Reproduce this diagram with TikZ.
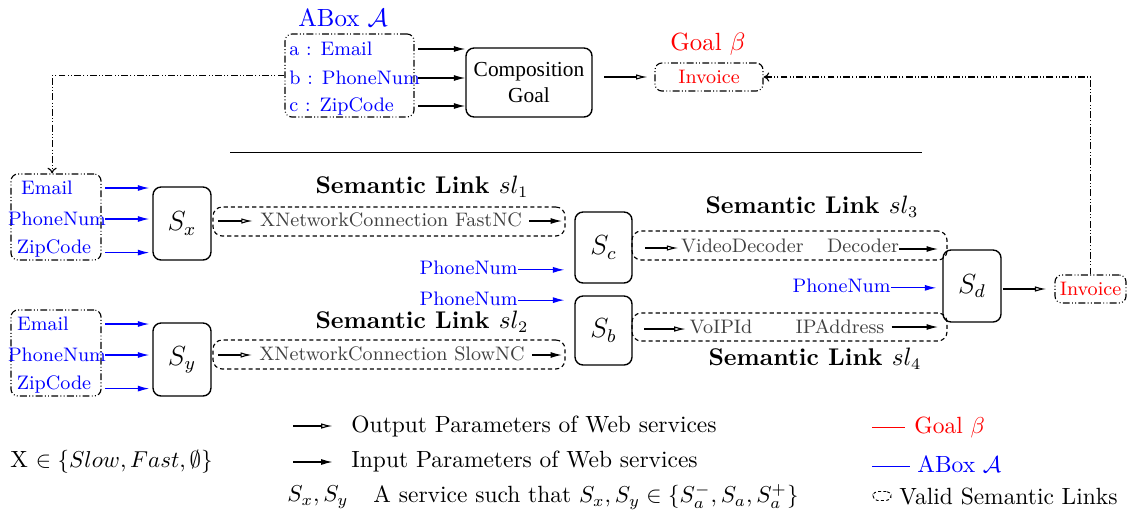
\documentclass[tikz,border=0pt]{standalone}
\usepackage{fontspec}
\newfontfamily\timesf{Liberation Serif}
\usetikzlibrary{arrows.meta}
\tikzset{
 wh/.style 2 args={minimum width=#1*0.4348pt,minimum height=#2*0.4348pt},
 svc/.style={draw,rounded corners=3.5pt,line width=0.6pt,inner sep=0pt,font=\fontsize{11.5}{13}\selectfont},
 ddbox/.style={draw,rounded corners=3pt,line width=0.5pt,inner sep=0pt,dash pattern=on 3pt off 1pt on 0.4pt off 1pt on 0.4pt off 1pt},
 slbox/.style={draw,rounded corners=4pt,line width=0.5pt,inner sep=0pt,dash pattern=on 1.8pt off 1.3pt},
 btxt/.style={inner sep=0pt,font=\fontsize{8.5}{10}\selectfont,text=blue},
 rtxt/.style={inner sep=0pt,font=\fontsize{8.5}{10}\selectfont,text=red},
 ltxt/.style={inner sep=0pt,font=\fontsize{8.5}{10}\selectfont,text=black!75},
 lbl/.style={inner sep=0pt,font=\fontsize{10.5}{12}\selectfont\bfseries},
 ttl/.style={inner sep=0pt,font=\fontsize{10.8}{12}\selectfont},
 leg/.style={inner sep=0pt,anchor=west,font=\fontsize{10.2}{12}\selectfont},
 inarr/.style={-{Latex[length=5pt,width=2.6pt]},line width=0.5pt},
 outarr/.style={-{Latex[open,length=5pt,width=2.4pt]},line width=0.5pt},
 ddline/.style={line width=0.5pt,dash pattern=on 3pt off 1pt on 0.4pt off 1pt on 0.4pt off 1pt,-{To[length=2.5pt,width=4pt]}},
}
\begin{document}
\begin{tikzpicture}[x=0.4348pt,y=-0.4348pt]
\useasboundingbox (0,0) rectangle (1132,519);
% ABox
\node[ttl,text=blue] (aboxt) at (343,18) {ABox $\mathcal{A}$};
\node[ddbox,wh={129}{83}] (abox) at (349.5,75.5) {};
\node[btxt,anchor=west] (ta) at (289,49) {a : Email};
\node[btxt,anchor=west] (tb) at (289,78) {b : PhoneNum};
\node[btxt,anchor=west] (tc) at (289,106) {c : ZipCode};
\node[draw,rounded corners=3.5pt,line width=0.6pt,wh={126}{69},align=center,font=\timesf\fontsize{9.3}{11.7}\selectfont] (comp) at (529,82.5) {Composition\\Goal};
\draw[inarr,shorten <=1.7pt] (abox.east |- ta) -- (comp.west |- ta);
\draw[inarr,shorten <=1.7pt] (abox.east |- tb) -- (comp.west |- tb);
\draw[inarr,shorten <=1.7pt] (abox.east |- tc) -- (comp.west |- tc);
% Goal
\node[ttl,text=red] (goalt) at (708,44) {Goal $\beta$};
\node[ddbox,wh={108}{28}] (inv1) at (709,77) {};
\node[rtxt] (inv1t) at (709,77) {Invoice};
\draw[outarr,shorten <=5pt,shorten >=3pt] (comp.east |- inv1) -- (inv1.west);
% rule
\draw[line width=0.4pt] (230,152) -- (922,152);
% left box 1
\node[ddbox,wh={90}{86}] (lb1) at (56,217) {};
\node[btxt] (e1) at (47,188) {Email};
\node[btxt] (p1) at (57,219) {PhoneNum};
\node[btxt] (z1) at (54,248) {ZipCode};
\node[svc,wh={58}{73}] (Sx) at (182,223.5) {$S_x$};
\draw[inarr,blue,shorten <=1.7pt,shorten >=1.3pt] (lb1.east |- e1) -- (Sx.west |- e1);
\draw[inarr,blue,shorten <=1.7pt,shorten >=1.3pt] (lb1.east |- p1) -- (Sx.west |- p1);
\draw[inarr,blue,shorten <=1.7pt,shorten >=1.3pt] ([yshift=-2pt]lb1.east |- z1) -- ([yshift=-2pt]Sx.west |- z1);
% sl1
\node[lbl] (sl1t) at (422,187) {Semantic Link $sl_1$};
\node[slbox,wh={352}{29}] (sl1) at (389,221.5) {};
\node[ltxt] (x1) at (391,220) {XNetworkConnection FastNC};
\coordinate (x1a) at (218,221);
\coordinate (x1b) at (562,221);
\draw[outarr,shorten >=3pt] (x1a) -- (x1a -| x1.west);
\draw[inarr,shorten <=3pt] (x1.east |- x1b) -- (x1b);
% left box 2
\node[ddbox,wh={90}{86}] (lb2) at (56,353) {};
\node[btxt] (e2) at (43,324) {Email};
\node[btxt] (p2) at (57,355) {PhoneNum};
\node[btxt] (z2) at (54,384) {ZipCode};
\node[svc,wh={58}{73}] (Sy) at (182,359.5) {$S_y$};
\draw[inarr,blue,shorten <=1.7pt,shorten >=1.3pt] (lb2.east |- e2) -- (Sy.west |- e2);
\draw[inarr,blue,shorten <=1.7pt,shorten >=1.3pt] (lb2.east |- p2) -- (Sy.west |- p2);
\draw[inarr,blue,shorten <=1.7pt,shorten >=1.3pt] ([yshift=-2pt]lb2.east |- z2) -- ([yshift=-2pt]Sy.west |- z2);
% sl2
\node[lbl] (sl2t) at (422,322) {Semantic Link $sl_2$};
\node[slbox,wh={352}{29}] (sl2) at (389,354.5) {};
\node[ltxt] (x2) at (392,354) {XNetworkConnection SlowNC};
\coordinate (x2a) at (218,355);
\coordinate (x2b) at (562,355);
\draw[outarr,shorten >=3pt] (x2a) -- (x2a -| x2.west);
\draw[inarr,shorten <=3pt] (x2.east |- x2b) -- (x2b);
% Sc, Sb
\node[svc,wh={57}{71}] (Sc) at (603.5,247.5) {$S_c$};
\node[svc,wh={57}{69}] (Sb) at (603.5,330.5) {$S_b$};
\node[btxt,anchor=east] (pc) at (518,268) {PhoneNum};
\node[btxt,anchor=east] (pb) at (518,299) {PhoneNum};
\draw[inarr,blue,shorten >=4.3pt] ([yshift=-0.8pt]pc.east) -- ([yshift=-0.8pt]Sc.west |- pc);
\draw[inarr,blue,shorten >=4.3pt] ([yshift=-0.5pt]pb.east) -- ([yshift=-0.5pt]Sb.west |- pb);
% sl3
\node[lbl] (sl3t) at (812,207) {Semantic Link $sl_3$};
\node[slbox,wh={315}{29}] (sl3) at (789.5,245.5) {};
\node[ltxt] (x3) at (790,246) {VideoDecoder\hspace{1.2em}Decoder};
\coordinate (x3a) at (645,248);
\coordinate (x3b) at (938,249);
\draw[outarr,shorten >=1pt] (x3a) -- (x3a -| x3.west);
\draw[inarr] (x3.east |- x3b) -- (x3b);
% Sd
\node[svc,wh={58}{72}] (Sd) at (972,286) {$S_d$};
\node[btxt,anchor=east] (pd) at (891,286) {PhoneNum};
\draw[inarr,blue,shorten >=2.6pt] ([yshift=-0.8pt]pd.east) -- ([yshift=-0.8pt]Sd.west |- pd);
% sl4
\node[lbl] (sl4t) at (815,359) {Semantic Link $sl_4$};
\node[slbox,wh={315}{28}] (sl4) at (789.5,327) {};
\node[ltxt] (v4) at (721,327) {VoIPId};
\node[ltxt] (i4) at (840,327) {IPAddress};
\coordinate (x4a) at (644,329);
\coordinate (x4b) at (938,327);
\draw[outarr,shorten >=1.5pt] (x4a) -- (x4a -| v4.west);
\draw[inarr,shorten <=3pt] (i4.east |- x4b) -- (x4b);
% Invoice 2
\node[ddbox,wh={71}{28}] (inv2) at (1090.5,289) {};
\node[rtxt] (inv2t) at (1090.5,289) {Invoice};
\draw[outarr,shorten <=0.5pt,shorten >=3.5pt] (Sd.east |- inv2) -- (inv2.west);
% dash-dot connectors
\draw[ddline] (inv2.north) |- (inv1.east);
\draw[ddline] (abox.west) -| ([xshift=-1.7pt]lb1.north);
% legend
\node[leg] (lgo) at (351,426) {Output Parameters of Web services};
\node[leg] (lgi) at (351,461) {Input Parameters of Web services};
\coordinate (lo) at (293,426);
\coordinate (li) at (293,462);
\draw[outarr,shorten >=8pt] (lo) -- (lo -| lgo.west);
\draw[inarr,shorten >=8pt] (li) -- (li -| lgi.west);
\node[leg] (lgs) at (287,497) {$S_x, S_y$};
\node[leg] (lgs2) at (373,497) {A service such that $S_x, S_y \in \{S_a^-, S_a, S_a^+\}$};
\node[leg] (lgx) at (10,462) {X $\in \{Slow, Fast, \emptyset\}$};
\node[leg,text=red] (lgg) at (914,427) {Goal $\beta$};
\node[leg,text=blue] (lga) at (917,464) {ABox $\mathcal{A}$};
\coordinate (lr) at (872,427);
\coordinate (lb) at (872,466);
\draw[red,line width=0.4pt,shorten >=4pt] (lr) -- (lr -| lgg.west);
\draw[blue,line width=0.4pt,shorten >=3pt] (lb) -- (lb -| lga.west);
\node[slbox,rounded corners=2pt,line width=0.4pt,dash pattern=on 1.3pt off 1pt,wh={18}{9}] (lgv) at (882,496) {};
\node[leg] (lgvt) at (899,496) {Valid Semantic Links};
\end{tikzpicture}
\end{document}
